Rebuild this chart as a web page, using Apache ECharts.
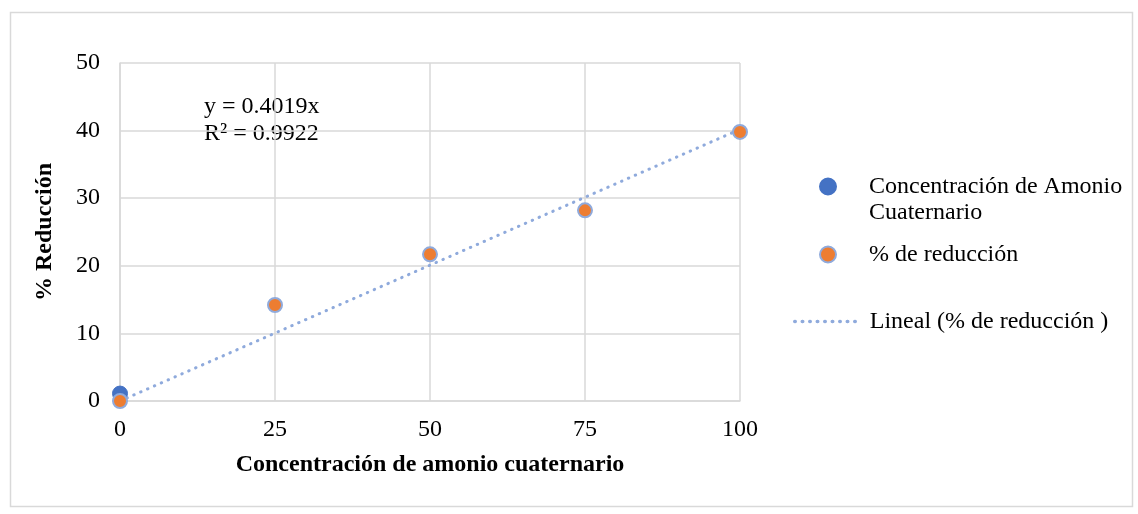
<!DOCTYPE html>
<html>
<head>
<meta charset="utf-8">
<script src="https://cdn.jsdelivr.net/npm/echarts@6/dist/echarts.min.js"></script>
<style>
  html, body { margin: 0; padding: 0; background: #fff; }
  #chart { width: 1138px; height: 514px; }
</style>
</head>
<body>
<div id="chart"></div>
<script>
// datos
var concentracion = [0, 25, 50, 75, 100];
var reduccion = [0, 14.2, 21.7, 28.2, 39.8];
var puntoAmonio = [[0, 1.1]];
var pendiente = 0.4019;
var r2 = 0.9922;
var ticksX = [0, 25, 50, 75, 100];

var fuente = '"Liberation Serif", "Times New Roman", serif';
var nombreAzul = 'Concentración de Amonio';
var nombreAzul2 = 'Cuaternario';
var nombreNaranja = '% de reducción';
var nombreLineal = 'Lineal (% de reducción )';

var datosReduccion = concentracion.map(function (x, i) { return [x, reduccion[i]]; });
var datosTendencia = [[ticksX[0], pendiente * ticksX[0]], [ticksX[ticksX.length - 1], pendiente * ticksX[ticksX.length - 1]]];

var textoLeyenda = { fontFamily: fuente, fontSize: 24, color: '#000', lineHeight: 27 };

var chart = echarts.init(document.getElementById('chart'));
chart.setOption({
  animation: false,
  textStyle: { fontFamily: fuente },
  grid: { left: 120, top: 63, width: 620, height: 338 },
  xAxis: {
    type: 'value', min: 0, max: 100, interval: 25,
    name: 'Concentración de amonio cuaternario',
    nameLocation: 'middle', nameGap: 52,
    nameTextStyle: { fontFamily: fuente, fontWeight: 'bold', fontSize: 24, color: '#000' },
    axisLine: { show: true, lineStyle: { color: '#d9d9d9', width: 1.5 } },
    axisTick: { show: false },
    axisLabel: { fontFamily: fuente, fontSize: 24, color: '#000', margin: 17 },
    splitLine: { show: true, lineStyle: { color: '#d9d9d9', width: 1.5 } }
  },
  yAxis: {
    type: 'value', min: 0, max: 50, interval: 10,
    name: '% Reducción',
    nameLocation: 'middle', nameGap: 63,
    nameTextStyle: { fontFamily: fuente, fontWeight: 'bold', fontSize: 24, color: '#000' },
    axisLine: { show: true, lineStyle: { color: '#d9d9d9', width: 1.5 } },
    axisTick: { show: false },
    axisLabel: { fontFamily: fuente, fontSize: 24, color: '#000', margin: 20 },
    splitLine: { show: true, lineStyle: { color: '#d9d9d9', width: 1.5 } }
  },
  legend: [
    {
      orient: 'vertical', left: 814, top: 168, icon: 'circle', itemWidth: 16, itemHeight: 16,
      data: [nombreAzul],
      textStyle: Object.assign({ padding: [0, 0, 0, 28] }, textoLeyenda)
    },
    {
      orient: 'vertical', left: 814, top: 236, icon: 'circle', itemWidth: 16, itemHeight: 16,
      data: [nombreNaranja],
      textStyle: Object.assign({ padding: [0, 0, 0, 28] }, textoLeyenda)
    },
    {
      orient: 'vertical', left: 788, top: 303, itemWidth: 67, itemHeight: 14,
      data: [nombreLineal],
      itemStyle: { opacity: 0 },
      lineStyle: { width: 3.5 },
      textStyle: Object.assign({ padding: [0, 0, 0, 3] }, textoLeyenda)
    }
  ],
  graphic: [
    {
      type: 'rect', left: 8, top: 10, z: -1,
      shape: { width: 1122, height: 494 },
      style: { fill: 'none', stroke: '#d9d9d9', lineWidth: 1.5 }
    },
    {
      type: 'text', left: 204, top: 93,
      style: {
        text: 'y = ' + pendiente + 'x\nR² = ' + r2,
        font: '24px ' + fuente, fill: '#000', lineHeight: 27
      }
    },
    {
      type: 'text', left: 869, top: 199,
      style: { text: nombreAzul2, font: '24px ' + fuente, fill: '#000', lineHeight: 27 }
    }
  ],
  series: [
    {
      name: nombreLineal, type: 'line', data: datosTendencia, symbol: 'none', z: 1,
      lineStyle: { color: '#8faadc', width: 3, type: [0.5, 7], cap: 'round' },
      itemStyle: { color: '#8faadc' }
    },
    {
      name: nombreAzul, type: 'scatter', data: puntoAmonio, symbolSize: 15, z: 2,
      itemStyle: { color: '#4472c4', borderColor: '#4472c4', borderWidth: 1, opacity: 1 }
    },
    {
      name: nombreNaranja, type: 'scatter', data: datosReduccion, symbolSize: 14, z: 3,
      itemStyle: { color: '#ed7d31', borderColor: '#8faadc', borderWidth: 2, opacity: 1 }
    }
  ]
});
</script>
</body>
</html>
